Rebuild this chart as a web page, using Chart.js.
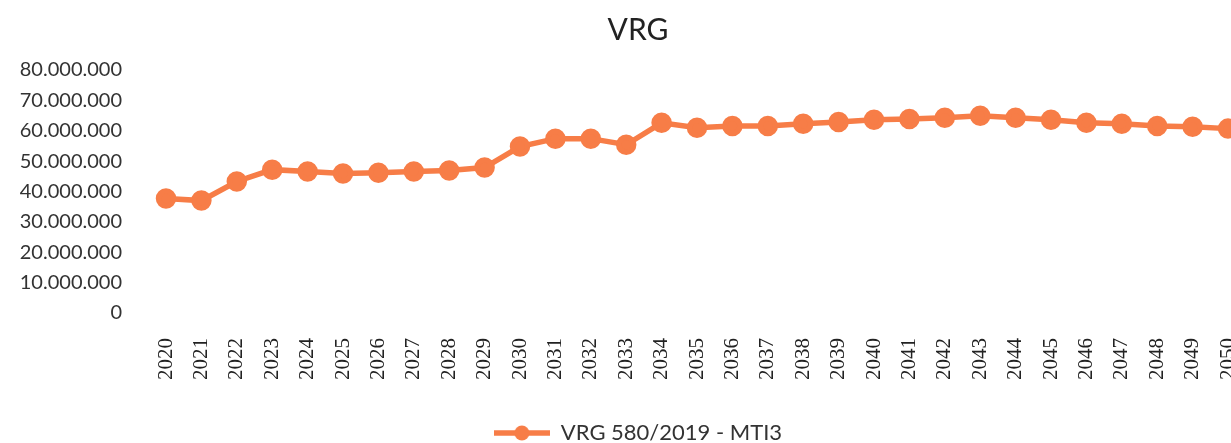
<!DOCTYPE html>
<html><head><meta charset="utf-8">
<script src="https://cdn.jsdelivr.net/npm/chart.js@4.4.1/dist/chart.umd.min.js"></script>
<style>
html,body{margin:0;padding:0;background:#fff;overflow:hidden;}
#wrap{width:1231px;height:443px;position:relative;overflow:hidden;}
</style></head>
<body><div id="wrap"><canvas id="c" width="1281" height="443"></canvas></div>
<script>
const years = ["2020","2021","2022","2023","2024","2025","2026","2027","2028","2029","2030","2031","2032","2033","2034","2035","2036","2037","2038","2039","2040","2041","2042","2043","2044","2045","2046","2047","2048","2049","2050"];
const vrgValues = [37700000,37000000,43300000,47200000,46600000,45900000,46200000,46600000,46900000,47900000,54800000,57400000,57400000,55400000,62600000,61000000,61600000,61600000,62300000,62900000,63600000,63900000,64300000,64900000,64300000,63600000,62600000,62300000,61600000,61300000,60700000];
const seriesName = "VRG 580/2019 - MTI3";
const chartTitle = "VRG";
const yMax = 80000000;
const yStep = 10000000;

const color = "#F77D47";
const ls = document.createElement('canvas');
ls.width = 56; ls.height = 16;
const g = ls.getContext('2d');
g.strokeStyle = color; g.lineWidth = 5.5;
g.beginPath(); g.moveTo(0,8); g.lineTo(56,8); g.stroke();
g.fillStyle = color; g.beginPath(); g.arc(28,8,7.5,0,Math.PI*2); g.fill();

new Chart(document.getElementById('c'), {
  type: 'line',
  data: { labels: years, datasets: [{
    label: seriesName, data: vrgValues,
    borderColor: color, backgroundColor: color,
    borderWidth: 5.5, pointRadius: 7.5, pointHoverRadius: 7.5,
    pointBackgroundColor: color, pointBorderColor: color, tension: 0
  }]},
  options: {
    responsive: false, animation: false,
    layout: { padding: { left: 0, right: 5, top: 0, bottom: -11 } },
    plugins: {
      title: { display: true, text: chartTitle, color: '#222', font: { family: 'Lato', size: 30, weight: 'normal' }, padding: { top: 12, bottom: 22 } },
      legend: { position: 'bottom', labels: { usePointStyle: true, pointStyle: ls, pointStyleWidth: 56, boxHeight: 16, color: '#333', font: { family: 'Lato', size: 22 }, padding: 8 } },
      tooltip: { enabled: false }
    },
    scales: {
      x: { offset: false, grid: { display: false }, border: { display: false },
        afterFit: s => { s.height = 101; s.paddingLeft = 0; s.paddingRight = 53; },
        ticks: { minRotation: 90, maxRotation: 90, autoSkip: false, color: '#222', padding: 17, font: { family: 'Liberation Serif', size: 21 } } },
      y: { min: 0, max: yMax, grid: { display: false }, border: { display: false },
        afterFit: s => { s.width = 166; },
        ticks: { stepSize: yStep, color: '#333', padding: 36, font: { family: 'Lato', size: 20 },
          callback: v => v.toLocaleString('de-DE') } }
    }
  }
});
</script></body></html>
